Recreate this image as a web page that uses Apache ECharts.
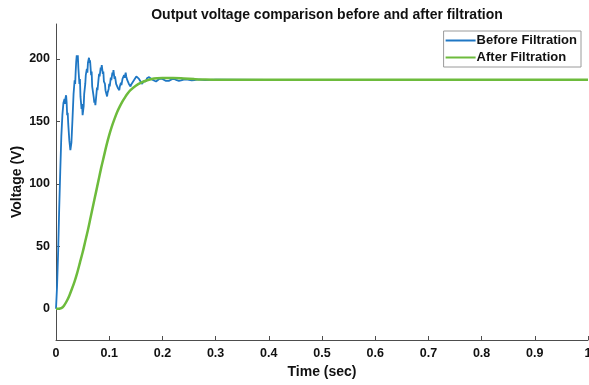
<!DOCTYPE html>
<html>
<head>
<meta charset="utf-8">
<script src="https://cdn.jsdelivr.net/npm/echarts@6/dist/echarts.min.js"></script>
<style>
    html, body { margin: 0; padding: 0; background: #fff; }
    #voltageChart { width: 589px; height: 385px; }
</style>
</head>
<body>
<div id="voltageChart"></div>
<script>
// values
var beforeTime = [0, 0.002, 0.004, 0.006, 0.008, 0.010, 0.012, 0.014, 0.016, 0.017, 0.018, 0.019, 0.020, 0.021, 0.022, 0.023, 0.025, 0.027, 0.029, 0.031,
    0.033, 0.035, 0.036, 0.037, 0.038, 0.039, 0.040, 0.041, 0.042, 0.044, 0.045, 0.046, 0.048, 0.049, 0.050, 0.052, 0.053, 0.055, 0.056, 0.058,
    0.059, 0.060, 0.062, 0.063, 0.064, 0.066, 0.067, 0.068, 0.070, 0.071, 0.072, 0.073, 0.074, 0.076, 0.077, 0.078, 0.080, 0.081, 0.082, 0.084,
    0.085, 0.086, 0.088, 0.089, 0.090, 0.092, 0.093, 0.095, 0.096, 0.097, 0.099, 0.100, 0.101, 0.103, 0.104, 0.106, 0.107, 0.108, 0.110, 0.111,
    0.113, 0.114, 0.116, 0.117, 0.119, 0.120, 0.122, 0.123, 0.125, 0.126, 0.128, 0.129, 0.131, 0.132, 0.134, 0.135, 0.137, 0.138, 0.140, 0.142,
    0.143, 0.145, 0.146, 0.148, 0.149, 0.151, 0.153, 0.154, 0.156, 0.157, 0.159, 0.161, 0.162, 0.164, 0.165, 0.167, 0.169, 0.171, 0.173, 0.175,
    0.177, 0.179, 0.181, 0.183, 0.185, 0.188, 0.191, 0.194, 0.197, 0.200, 0.203, 0.206, 0.209, 0.212, 0.215, 0.219, 0.223, 0.227, 0.231, 0.235,
    0.240, 0.245, 0.250, 0.255, 0.260, 0.265, 0.270, 0.280, 0.290, 0.300, 0.400, 0.500, 0.600, 0.700, 0.800, 0.900, 1.000];
var beforeVolt = [0, 18, 45, 80, 110, 138, 155, 165, 168, 164, 169, 171, 165, 155, 157, 148, 135, 127, 133, 152,
    172, 183, 180, 190, 198, 203, 199, 203, 193, 180, 184, 170, 160, 164, 155, 162, 172, 180, 187, 192,
    189, 197, 201, 197, 199, 187, 190, 178, 172, 169, 165, 167, 163, 172, 177, 175, 184, 188, 186, 193,
    191, 195, 188, 190, 182, 180, 175, 174, 170, 173, 176, 180, 178, 185, 183, 189, 187, 191, 184, 186,
    180, 181, 177, 178, 175, 178, 181, 179, 184, 183, 187, 185, 189, 186, 183, 184, 180, 181, 178, 180,
    179, 182, 181, 184, 183, 186, 185, 187, 184, 185, 182, 182, 180, 182, 181, 183, 182, 184.5, 184, 185.5,
    184.5, 184, 182.5, 183, 181.5, 182, 183, 184, 184.5, 184, 183, 182.5, 182, 182.5, 183.5, 184, 183.8, 183, 182.5, 182.8,
    183.5, 183.7, 183.2, 182.8, 183, 183.5, 183.4, 183, 183.3, 183.4, 183.3, 183.3, 183.3, 183.3, 183.3, 183.3, 183.3];

var afterTime = [0, 0.005, 0.010, 0.015, 0.020, 0.025, 0.030, 0.035, 0.040, 0.045, 0.050, 0.055, 0.060, 0.065, 0.070, 0.075, 0.080, 0.085, 0.090, 0.095,
    0.100, 0.105, 0.110, 0.115, 0.120, 0.125, 0.130, 0.135, 0.140, 0.150, 0.160, 0.170, 0.180, 0.190, 0.200, 0.220, 0.240, 0.260, 0.280, 0.300,
    0.350, 0.400, 0.500, 0.600, 0.700, 0.800, 0.900, 1.000];
var afterVolt = [0, 0, 0.5, 2.5, 6, 10.5, 16, 22, 29, 37, 45, 54, 63, 73, 83, 93, 103, 113, 122, 131,
    139, 146, 152, 157.5, 162, 166, 169.5, 172.5, 175, 178.5, 181, 182.8, 183.9, 184.5, 184.8, 184.8, 184.4, 183.9, 183.5, 183.4,
    183.3, 183.3, 183.3, 183.3, 183.3, 183.3, 183.3, 183.3];

var seriesNames = ['Before Filtration', 'After Filtration'];
var xTicks = [0, 0.1, 0.2, 0.3, 0.4, 0.5, 0.6, 0.7, 0.8, 0.9, 1];
var yTicks = [0, 50, 100, 150, 200];

function pairs(xs, ys) {
    var out = [];
    for (var i = 0; i < xs.length; i++) {
        out.push([xs[i], ys[i]]);
    }
    return out;
}

var chart = echarts.init(document.getElementById('voltageChart'));
var axisColor = '#4d4d4d';
var font = 'Liberation Sans, Arial, sans-serif';

var option = {
    animation: false,
    backgroundColor: '#fff',
    title: {
        text: 'Output voltage comparison before and after filtration',
        left: 322,
        textAlign: 'center',
        top: 3,
        textStyle: { fontFamily: font, fontSize: 14, fontWeight: 'bold', color: '#111' }
    },
    legend: {
        orient: 'vertical',
        right: 8,
        top: 31,
        data: seriesNames,
        icon: 'rect',
        itemWidth: 30,
        itemHeight: 2,
        itemGap: 4,
        padding: [3, 4, 3, 2],
        backgroundColor: '#fff',
        borderColor: '#9a9a9a',
        borderWidth: 1,
        textStyle: { fontFamily: font, fontSize: 13, fontWeight: 'bold', color: '#111', padding: [0, 0, 0, -4] }
    },
    grid: { left: 56, right: 1, top: 24, bottom: 45, containLabel: false, outerBoundsMode: 'none' },
    xAxis: {
        type: 'value',
        min: 0,
        max: 1,
        interval: 0.1,
        name: 'Time (sec)',
        nameLocation: 'middle',
        nameGap: 25,
        nameMoveOverlap: false,
        nameTextStyle: { fontFamily: font, fontSize: 14, fontWeight: 'bold', color: '#111' },
        axisLine: { onZero: false, lineStyle: { color: axisColor } },
        axisTick: { inside: true, length: 4, customValues: xTicks, lineStyle: { color: axisColor } },
        axisLabel: {
            margin: 7, fontFamily: font, fontSize: 12.5, fontWeight: 'bold', color: '#111',
            customValues: xTicks
        },
        splitLine: { show: false }
    },
    yAxis: {
        type: 'value',
        min: -25,
        max: 228,
        name: 'Voltage (V)',
        nameLocation: 'middle',
        nameGap: 32,
        nameMoveOverlap: false,
        nameTextStyle: { fontFamily: font, fontSize: 14, fontWeight: 'bold', color: '#111' },
        axisLine: { show: true, lineStyle: { color: axisColor } },
        axisTick: { show: true, inside: true, length: 4, customValues: yTicks, lineStyle: { color: axisColor } },
        axisLabel: {
            margin: 6, fontFamily: font, fontSize: 12.5, fontWeight: 'bold', color: '#111',
            customValues: yTicks
        },
        splitLine: { show: false }
    },
    series: [
        {
            name: seriesNames[0],
            type: 'line',
            data: pairs(beforeTime, beforeVolt),
            showSymbol: false,
            symbol: 'none',
            color: '#1f77c4',
            lineStyle: { width: 1.8, color: '#1f77c4' },
            z: 2
        },
        {
            name: seriesNames[1],
            type: 'line',
            data: pairs(afterTime, afterVolt),
            smooth: 0.3,
            showSymbol: false,
            symbol: 'none',
            color: '#6dbb3c',
            lineStyle: { width: 2.5, color: '#6dbb3c' },
            z: 3
        }
    ]
};

chart.setOption(option);
</script>
</body>
</html>
